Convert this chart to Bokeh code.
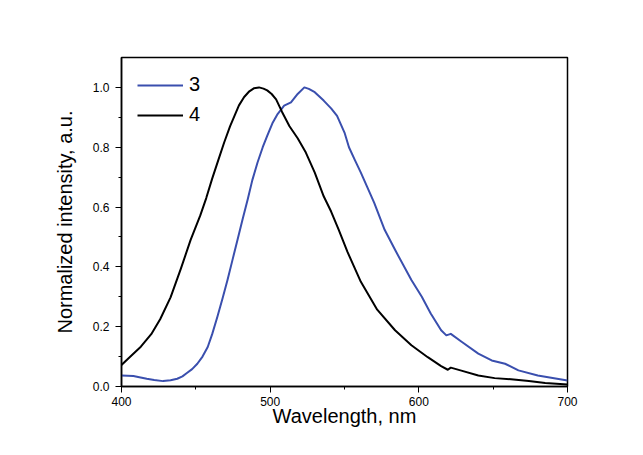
from bokeh.plotting import figure
from bokeh.models import FixedTicker, PrintfTickFormatter, Legend, LegendItem, Range1d
from bokeh.embed import file_html
from bokeh.resources import INLINE

# Series 3 (blue)
wl3 = [400, 404, 408, 412, 417, 422, 428, 433, 437.5, 441, 444, 447.5, 451, 454.5, 458, 461,
       464.5, 468, 471.3, 474.5, 478, 481.5, 485, 488, 491.5, 495, 498, 501.5, 505, 509.4,
       514, 518.5, 523, 526, 530, 536, 541, 545, 550, 553, 557, 561, 570, 577, 584, 595,
       602, 608, 615, 618.5, 621.5, 629, 640, 649, 658, 667, 680, 700]
int3 = [0.037, 0.036, 0.035, 0.031, 0.026, 0.022, 0.018, 0.021, 0.026, 0.034, 0.045, 0.058,
        0.076, 0.100, 0.132, 0.175, 0.233, 0.295, 0.356, 0.420, 0.490, 0.560, 0.628, 0.690,
        0.749, 0.800, 0.838, 0.880, 0.911, 0.939, 0.950, 0.978, 1.000, 0.995, 0.984, 0.956,
        0.930, 0.905, 0.849, 0.800, 0.757, 0.715, 0.614, 0.524, 0.457, 0.356, 0.300, 0.244,
        0.188, 0.171, 0.176, 0.149, 0.110, 0.087, 0.076, 0.054, 0.037, 0.020]

# Series 4 (black)
wl4 = [400, 406, 413, 420, 426, 433, 440, 446.5, 453, 457, 461, 465, 469, 473, 476, 479,
       482.5, 486, 489, 492.5, 495.5, 498, 501, 504, 508, 513, 518.5, 524, 530, 536, 541,
       546, 552, 561, 572, 584, 595, 606, 615, 619.5, 621.5, 628, 640, 651, 662, 674, 685,
       700]
int4 = [0.072, 0.100, 0.133, 0.175, 0.225, 0.298, 0.395, 0.490, 0.572, 0.630, 0.695, 0.755,
        0.815, 0.870, 0.905, 0.940, 0.968, 0.987, 0.997, 1.000, 0.996, 0.990, 0.978, 0.960,
        0.918, 0.870, 0.830, 0.782, 0.715, 0.636, 0.585, 0.525, 0.450, 0.350, 0.257, 0.188,
        0.138, 0.098, 0.068, 0.056, 0.063, 0.054, 0.037, 0.028, 0.024, 0.018, 0.012, 0.007]

x_ticks = [400, 500, 600, 700]
x_minor = [450, 550, 650]
y_ticks = [0.0, 0.2, 0.4, 0.6, 0.8, 1.0]
y_minor = [0.1, 0.3, 0.5, 0.7, 0.9]

FONT = "Liberation Sans"
BLUE = "#3A4FAE"

p = figure(width=643, height=455, output_backend="svg", toolbar_location=None,
           x_range=Range1d(400, 700), y_range=Range1d(0, 1.1),
           min_border_left=121, min_border_right=76, min_border_top=57, min_border_bottom=69)
p.background_fill_color = "white"
p.border_fill_color = "white"
p.grid.visible = False
p.outline_line_color = "black"
p.outline_line_width = 1.5

r3 = p.line(wl3, int3, line_color=BLUE, line_width=2, line_join="round")
r4 = p.line(wl4, int4, line_color="black", line_width=2, line_join="round")

for ax in (p.xaxis[0], p.yaxis[0]):
    ax.axis_line_color = "black"
    ax.axis_line_width = 1.5
    ax.major_tick_line_color = "black"
    ax.minor_tick_line_color = "black"
    ax.major_tick_out = 6
    ax.major_tick_in = 0
    ax.minor_tick_out = 3
    ax.minor_tick_in = 0
    ax.major_label_text_font = FONT
    ax.major_label_text_font_size = "12px"
    ax.major_label_text_color = "black"
    ax.axis_label_text_font = FONT
    ax.axis_label_text_font_size = "20px"
    ax.axis_label_text_font_style = "normal"
    ax.axis_label_text_color = "black"

p.xaxis.ticker = FixedTicker(ticks=x_ticks, minor_ticks=x_minor)
p.yaxis.ticker = FixedTicker(ticks=y_ticks, minor_ticks=y_minor)
p.yaxis.formatter = PrintfTickFormatter(format="%.1f")
p.xaxis.major_label_standoff = 4
p.yaxis.major_label_standoff = 6
p.xaxis.axis_label = "Wavelength, nm"
p.yaxis.axis_label = "Normalized intensity, a.u."
p.xaxis.axis_label_standoff = -4
p.yaxis.axis_label_standoff = 14

legend = Legend(items=[LegendItem(label="3", renderers=[r3]),
                       LegendItem(label="4", renderers=[r4])],
                location=(16, 260))
legend.border_line_color = None
legend.background_fill_alpha = 0
legend.padding = 0
legend.margin = 0
legend.spacing = 7
legend.glyph_width = 46
legend.glyph_height = 20
legend.label_height = 20
legend.label_standoff = 6
legend.label_text_font = FONT
legend.label_text_font_size = "20px"
legend.label_text_color = "black"
p.add_layout(legend)

open("out.html", "w").write(file_html(p, INLINE))
